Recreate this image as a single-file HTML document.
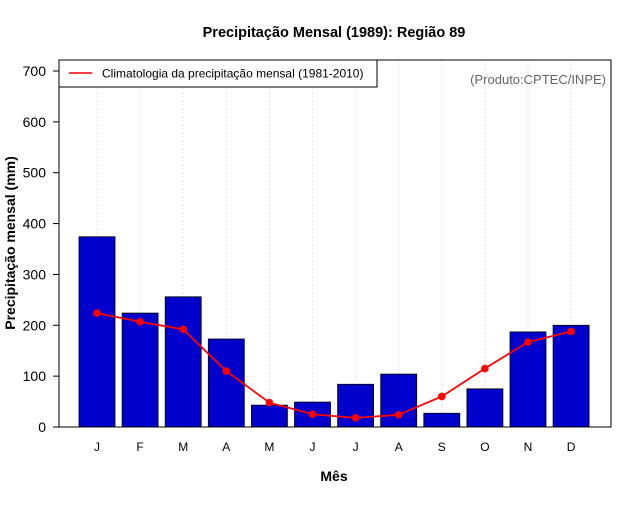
<!DOCTYPE html>
<html><head><meta charset="utf-8"><style>
body{margin:0;background:#fff;}
svg text{font-family:"Liberation Sans",sans-serif;}
</style></head><body>
<svg width="640" height="500" xmlns="http://www.w3.org/2000/svg">
<rect width="640" height="500" fill="#fff"/>
<text x="334" y="37" text-anchor="middle" font-size="14.5" font-weight="bold">Precipitação Mensal (1989): Região 89</text>
<g id="grid"></g>
<g id="bars"></g>
<g id="line"></g>
<rect x="59" y="60" width="552" height="367" fill="none" stroke="#000" stroke-width="1"/>
<g id="yaxis"></g>
<g id="xaxis"></g>
<text x="15" y="243" transform="rotate(-90 15 243)" text-anchor="middle" font-size="14" font-weight="bold">Precipitação mensal (mm)</text>
<text x="334" y="481" text-anchor="middle" font-size="14" font-weight="bold">Mês</text>
<g>
<rect x="59" y="60" width="318" height="27" fill="#fff" stroke="#000"/>
<line x1="69" y1="73" x2="92" y2="73" stroke="#f00" stroke-width="1.5"/>
<text x="102" y="77.5" font-size="12">Climatologia da precipitação mensal (1981-2010)</text>
</g>
<text x="606" y="84" text-anchor="end" font-size="13" fill="#666">(Produto:CPTEC/INPE)</text>
</svg>
<script>
const months=["J","F","M","A","M","J","J","A","S","O","N","D"];
const precip=[374,224,256,173,43,49,84,104,27,75,187,200];
const climatology=[224,207,192,110,48,25,18,24,60,115,167,188];
const yTicks=[0,100,200,300,400,500,600,700];
const NS="http://www.w3.org/2000/svg";
const x=i=>97+i*43.1;
const y=v=>427-v*(356/700);
function mk(tag,attrs,parent,text){const e=document.createElementNS(NS,tag);for(const k in attrs)e.setAttribute(k,attrs[k]);if(text!==undefined)e.textContent=text;document.getElementById(parent).appendChild(e);return e;}
months.forEach((m,i)=>{
 const g=mk('line',{x1:x(i),x2:x(i),y1:60,y2:427,stroke:'#e6e6e6','stroke-dasharray':'2,2'},'grid');
 
 
 const b=mk('rect',{x:x(i)-18,y:y(precip[i]),width:36,height:y(0)-y(precip[i]),fill:'#0000cd',stroke:'#000','stroke-width':0.8},'bars');
 
 
 const t=mk('text',{x:x(i),y:451,'text-anchor':'middle','font-size':12},'xaxis',m);
 
 
});
const pts=climatology.map((v,i)=>x(i)+','+y(v)).join(' ');
const pl=mk('polyline',{points:pts,fill:'none',stroke:'#f00','stroke-width':1.8},'line');


climatology.forEach((v,i)=>{
 const c=mk('circle',{cx:x(i),cy:y(v),r:3.8,fill:'#f00'},'line');
 
 
});
yTicks.forEach(v=>{
 const l=mk('line',{x1:53,x2:59,y1:y(v),y2:y(v),stroke:'#000'},'yaxis');
 
 
 const t=mk('text',{x:46,y:y(v)+5,'text-anchor':'end','font-size':14},'yaxis',v);
 
 
});
</script>
</body></html>
